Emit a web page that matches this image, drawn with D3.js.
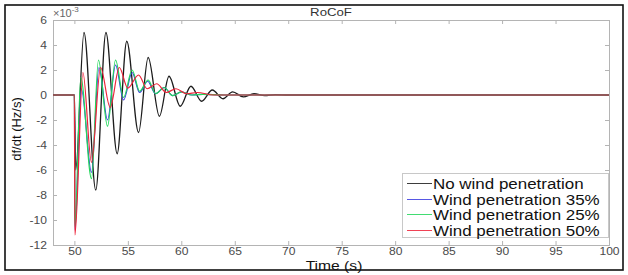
<!DOCTYPE html>
<html><head><meta charset="utf-8">
<script src="https://cdn.jsdelivr.net/npm/d3@7"></script>
<style>body{margin:0;background:#fff}svg{display:block}text{font-family:"Liberation Sans",Arial,sans-serif}</style>
</head><body><svg id="c" width="628" height="275"></svg>
<script>
// ---- data (values in units of 1e-3 Hz/s) ----
const xTicks = [50,55,60,65,70,75,80,85,90,95,100];
const yTicks = [-12,-10,-8,-6,-4,-2,0,2,4,6];
const seriesNames = ["No wind penetration","Wind penetration 35%","Wind penetration 25%","Wind penetration 50%"];
const seriesColors = ["#1c1c1c","#3a3ae0","#22d65a","#ee2238"];

const tNoWind = [48,50,50.12,50.9,52.0,52.95,54.0,54.9,56.0,56.9,57.95,58.85,59.9,60.9,61.9,62.9,63.9,64.8,65.8,66.8,67.8,68.8,70,100];
const vNoWind = [0,0,-6.0,5.0,-7.6,5.0,-4.7,4.3,-3.0,3.0,-1.7,1.5,-0.9,0.7,-0.5,0.4,-0.3,0.25,-0.15,0.1,-0.05,0.03,0,0];

const tWind35 = [48,50,50.05,50.65,51.6,52.3,53.1,53.85,54.6,55.4,56.1,56.85,57.6,58.4,59.2,60.0,61.0,62.0,64,100];
const vWind35 = [0,0,-10.8,0.5,-6.2,2.2,-2.0,2.4,-0.4,1.8,0.2,1.1,0.1,0.6,-0.05,0.25,0,0.05,0,0];

const tWind25 = [48,50,50.05,50.6,51.6,52.25,53.1,53.85,54.6,55.4,56.1,56.9,57.6,58.4,59.2,60.0,61.0,62.0,64,100];
const vWind25 = [0,0,-10.5,1.4,-6.7,2.8,-2.5,2.8,-0.2,2.0,0.3,1.2,0.1,0.6,-0.05,0.25,0,0.05,0,0];

const tWind50 = [48,50,50.05,50.8,51.6,52.45,53.35,54.2,55.0,56.0,56.8,57.7,58.6,59.5,60.5,61.5,63,100];
const vWind50 = [0,0,-11.2,1.8,-5.4,2.2,-1.0,2.2,0.55,1.6,0.5,0.9,0.2,0.5,0.1,0.2,0,0];

const seriesT = [tNoWind,tWind35,tWind25,tWind50];
const seriesV = [vNoWind,vWind35,vWind25,vWind50];

// ---- drawing ----
const svg = d3.select("#c");
const L=53, R=609, T=20, B=245;
const x = d3.scaleLinear().domain([48,100]).range([L,R]);
const y = d3.scaleLinear().domain([-12,6]).range([B,T]);
const axisCol = "#b4b4b4", tickTxt = "#4a4a4a";
const SX = 1.2;
function stretch(sel,f){ sel.each(function(){ const w=this.getComputedTextLength(); d3.select(this).attr("textLength",w*f).attr("lengthAdjust","spacingAndGlyphs"); }); }

const root = svg.append("g");

// axes box
const gx = root.append("g").attr("transform",`translate(0,${B})`)
  .call(d3.axisBottom(x).tickValues(xTicks).tickSize(-4).tickPadding(2.5).tickFormat(d3.format("d")));
const gxt = root.append("g").attr("transform",`translate(0,${T})`)
  .call(d3.axisTop(x).tickValues(xTicks).tickSize(-4).tickFormat(""));
const gy = root.append("g").attr("transform",`translate(${L},0)`)
  .call(d3.axisLeft(y).tickValues(yTicks).tickSize(-4).tickPadding(5).tickFormat(d=>d<0?"-"+Math.abs(d):d));
const gyr = root.append("g").attr("transform",`translate(${R},0)`)
  .call(d3.axisRight(y).tickValues(yTicks).tickSize(-4).tickFormat(""));
[gx,gxt,gy,gyr].forEach(g=>{
  g.selectAll("path").attr("stroke",axisCol).attr("stroke-width",1);
  g.selectAll("line").attr("stroke",axisCol);
  g.selectAll("text").attr("fill",tickTxt).style("font-size","10.5px");
});
gy.selectAll("text").attr("dx","-1");
stretch(gx.selectAll("text"),1.15);
stretch(gy.selectAll("text"),1.15);

// lines
const line = d3.line().x(d=>x(d[0])).y(d=>y(d[1])).curve(d3.curveMonotoneX);
const plot = root.append("g");
seriesT.forEach((ts,i)=>{
  const pts = ts.map((t,j)=>[t,seriesV[i][j]]);
  plot.append("path").datum(pts).attr("d",line).attr("fill","none")
    .attr("stroke",seriesColors[i]).attr("stroke-width",i===0?1.3:1.2).attr("stroke-linejoin","round");
});

// exponent label
const ex = root.append("text").attr("x",53).attr("y",17).attr("fill","#666").style("font-size","11px");
ex.append("tspan").text("\u00d710");
ex.append("tspan").attr("dy",-5).style("font-size","8px").text("-3");

// title
stretch(root.append("text").attr("x",(L+R)/2).attr("y",16).attr("text-anchor","middle").attr("fill","#333")
  .style("font-size","11px").text("RoCoF"),SX);

// y label
root.append("text").attr("transform",`translate(21,${129}) rotate(-90)`).attr("text-anchor","middle")
  .attr("fill","#111").style("font-size","13px").text("df/dt (Hz/s)");

// x label
stretch(root.append("text").attr("x",334).attr("y",269.5).attr("text-anchor","middle").attr("fill","#111")
  .style("font-size","12.5px").text("Time (s)"),1.25);

// legend
const lg = root.append("g");
lg.append("rect").attr("x",402.5).attr("y",173.5).attr("width",206).attr("height",64)
  .attr("fill","#fff").attr("stroke","#c8c8c8").attr("stroke-width",1);
seriesNames.forEach((n,i)=>{
  const cy = Math.round(183 + i*15.5) + 0.5;
  lg.append("line").attr("x1",407).attr("x2",432).attr("y1",cy).attr("y2",cy)
    .attr("stroke",seriesColors[i]).attr("stroke-width",1).attr("opacity",0.85);
  stretch(lg.append("text").attr("x",433).attr("y",cy+5).attr("fill","#111").style("font-size","14px").text(n),1.21);
});

// outer frame
svg.append("rect").attr("x",5).attr("y",5).attr("width",618).attr("height",265)
  .attr("fill","none").attr("stroke","#111").attr("stroke-width",1.6);
</script></body></html>
